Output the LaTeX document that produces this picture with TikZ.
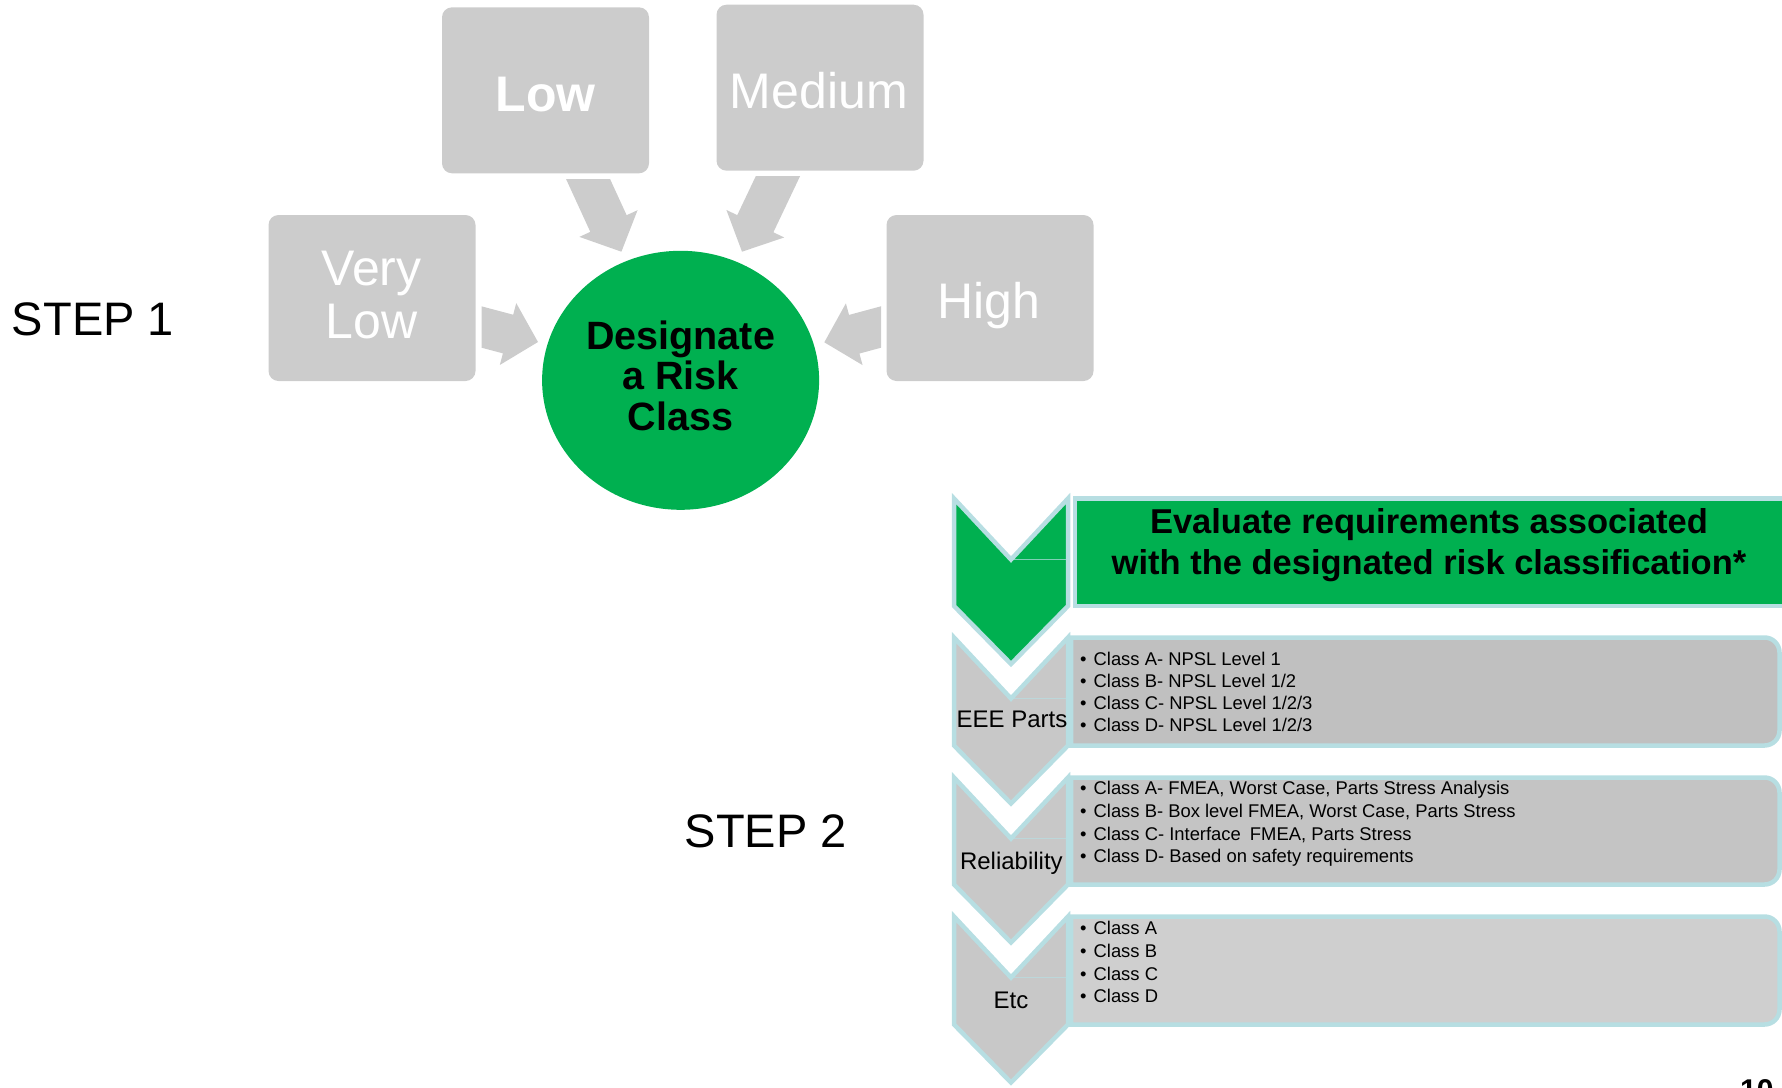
\documentclass[tikz,border=0pt]{standalone}
\usepackage{fontspec}
\setmainfont{Liberation Sans}
\usetikzlibrary{shapes.geometric,calc}
\definecolor{boxgray}{RGB}{204,204,204}
\definecolor{pptgreen}{RGB}{0,176,80}
\definecolor{edgecyan}{RGB}{183,222,226}
\definecolor{grayA}{RGB}{192,192,192}
\definecolor{grayB}{RGB}{196,196,196}
\definecolor{grayC}{RGB}{207,207,207}
\definecolor{chevgray}{RGB}{200,200,200}

% block arrow from base #1 to tip #2, #3 = helper coordinate name
\newcommand\blockarrow[3]{%
  \coordinate (#3) at ($(#2)!31pt!(#1)$);
  \fill[boxgray] ($(#1)!20pt!90:(#2)$) -- ($(#3)!20pt!90:(#2)$) -- ($(#3)!32pt!90:(#2)$) -- (#2)
     -- ($(#3)!32pt!-90:(#2)$) -- ($(#3)!20pt!-90:(#2)$) -- ($(#1)!20pt!-90:(#2)$) -- cycle;}
% item box: top, bottom, fill
\newcommand\itembox[3]{%
  \filldraw[stepframe, fill=#3] (1071,#1) -- (1764.5,#1) arc[start angle=90,end angle=0,radius=15pt]
     -- (1779.5,{#2-15}) arc[start angle=0,end angle=-90,radius=15pt] -- (1071,#2) -- cycle;}
% chevron: top, bottom, fill
\newcommand\chevronshape[3]{%
  \filldraw[stepframe, fill=#3] (954,#1) -- (1011,{#1+61}) -- (1068,#1) -- (1068,#2)
     -- (1011,{#2+58}) -- (954,#2) -- cycle;
  \draw[edgecyan, line width=0.8pt, opacity=0.7] (1011,{#1+61}) -- (1066,{#1+61});}

\begin{document}
\begin{tikzpicture}[x=1pt,y=-1pt,
  riskbox/.style={rectangle, rounded corners=10pt, fill=boxgray, minimum width=207pt, minimum height=166pt, inner sep=0pt},
  riskword/.style={text=white, font=\fontsize{50}{55}\selectfont, inner sep=0pt, anchor=base},
  centreword/.style={text=black, font=\bfseries\fontsize{39.5}{42}\selectfont, inner sep=0pt, anchor=base},
  steplabel/.style={font=\fontsize{47}{50}\selectfont, inner sep=0pt, anchor=base west},
  headword/.style={font=\bfseries\fontsize{34.5}{40}\selectfont, inner sep=0pt, anchor=base},
  itemline/.style={font=\fontsize{18.4}{22}\selectfont, inner sep=0pt, anchor=base west},
  areaname/.style={font=\fontsize{24}{26}\selectfont, inner sep=0pt, anchor=base},
  stepframe/.style={draw=edgecyan, line width=4.5pt, line join=miter}]

\useasboundingbox (0,0) rectangle (1782,1087);
\clip (0,0) rectangle (1782,1087);

% ---------- STEP 1 ----------
\node[riskbox] (verylow) at (372,298) {};
\node[riskbox] (low) at (545.5,90.3) {};
\node[riskbox] (medium) at (820,87.7) {};
\node[riskbox] (high) at (990,298) {};
\node[ellipse, fill=pptgreen, minimum width=277pt, minimum height=259pt, inner sep=0pt] (risk) at (680.6,380.3) {};

\node[riskword] (vlt1) at (371.6,285) {Very};
\node[riskword] (vlt2) at (371.6,338.3) {Low};
\node[riskword, font=\bfseries\fontsize{50}{55}\selectfont] (lowt) at (545.5,111.7) {Low};
\node[riskword] (medt) at (818.9,108.3) {Medium};
\node[riskword] (hight) at (988.8,318.3) {High};

\node[centreword] (d1) at (680.6,349.3) {Designate};
\node[centreword] (d2) at (680.6,389.8) {a Risk};
\node[centreword] (d3) at (680.6,430.3) {Class};

% arrows: tails cut straight (horizontal / vertical), as in the reference
\coordinate (vlA) at (453.25,319.5);  \coordinate (vlB) at (538,342);
\coordinate (loA) at (575.5,151.7);   \coordinate (loB) at (621.4,251.7);
\coordinate (meA) at (792.4,145.7);   \coordinate (meB) at (742,251.7);
\coordinate (hiA) at (909.35,319.35); \coordinate (hiB) at (824.3,342.3);
\begin{scope}
  \clip (481.5,0) rectangle (700,600);
  \blockarrow{vlA}{vlB}{vlH}
\end{scope}
\begin{scope}
  \clip (400,179) rectangle (700,400);
  \blockarrow{loA}{loB}{loH}
\end{scope}
\begin{scope}
  \clip (650,176) rectangle (950,400);
  \blockarrow{meA}{meB}{meH}
\end{scope}
\begin{scope}
  \clip (700,0) rectangle (881,600);
  \blockarrow{hiA}{hiB}{hiH}
\end{scope}

\node[steplabel] (step1) at (11.8,335) {STEP 1};

% ---------- STEP 2 ----------
\node[steplabel] (step2) at (684.5,847.3) {STEP 2};

\itembox{637.5}{745.5}{grayA}
\itembox{777.5}{884.5}{grayB}
\itembox{916.5}{1024.5}{grayC}
\filldraw[stepframe, fill=pptgreen] (1075,498.5) rectangle (1800,606);

\chevronshape{916.5}{1024.5}{chevgray}
\chevronshape{777.5}{884.5}{chevgray}
\chevronshape{637.5}{745.5}{chevgray}
\chevronshape{498.5}{606}{pptgreen}

\node[headword] (head1) at (1429,533) {Evaluate requirements associated};
\node[headword] (head2) at (1429,574) {with the designated risk classification*};

\node[areaname] (eee) at (1012,727.3) {EEE Parts};
\node[areaname] (rel) at (1011.4,869.3) {Reliability};
\node[areaname] (etc) at (1011,1008.3) {Etc};

\foreach \txt [count=\i] in {{Class A- NPSL Level 1},{Class B- NPSL Level 1/2},{Class C- NPSL Level 1/2/3},{Class D- NPSL Level 1/2/3}}
  \node[itemline] (eee\i) at (1080,{665.5+21.9*(\i-1)}) {•\hspace{7pt}\txt};
\foreach \txt [count=\i] in {{Class A- FMEA, Worst Case, Parts Stress Analysis},{Class B- Box level FMEA, Worst Case, Parts Stress},{Class C- Interface\hspace{4pt} FMEA, Parts Stress},{Class D- Based on safety requirements}}
  \node[itemline] (rel\i) at (1080,{794.8+22.6*(\i-1)}) {•\hspace{7pt}\txt};
\foreach \txt [count=\i] in {{Class A},{Class B},{Class C},{Class D}}
  \node[itemline] (etc\i) at (1080,{934.8+22.6*(\i-1)}) {•\hspace{7pt}\txt};

\node[font=\bfseries\fontsize{30}{32}\selectfont, inner sep=0pt, anchor=base west] (pagenum) at (1740,1100.5) {10};
\end{tikzpicture}
\end{document}
